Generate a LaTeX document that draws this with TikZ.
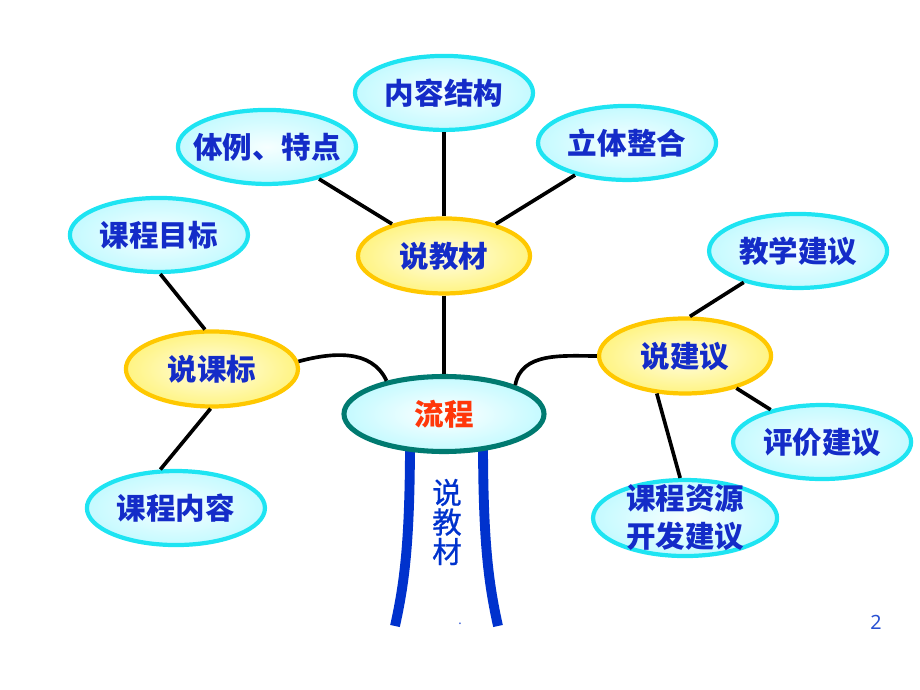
\documentclass[tikz,border=0pt]{standalone}
\usepackage{fontspec}
\setmainfont{Noto Sans}
\newfontfamily\cjk{Noto Sans CJK SC}
\newfontfamily\cjkv[FakeBold=0.8]{Noto Sans CJK SC}
\usetikzlibrary{shapes.geometric, positioning, backgrounds}
\definecolor{textblue}{RGB}{20,44,200}
\definecolor{rootred}{RGB}{255,55,10}
\definecolor{leafline}{RGB}{30,228,242}
\definecolor{leaffill}{RGB}{196,250,255}
\definecolor{branchline}{RGB}{255,200,0}
\definecolor{branchfill}{RGB}{255,244,130}
\definecolor{rootline}{RGB}{0,122,112}
\definecolor{pillarblue}{RGB}{0,50,205}
\definecolor{pageblue}{RGB}{40,80,210}
\tikzset{
  leaf/.style={ellipse, draw=leafline, line width=3pt, inner color=white!85!leaffill, outer color=leaffill, minimum width=4.45cm, minimum height=1.85cm, inner xsep=-0.8cm, inner ysep=-0.45cm, align=center, font=\cjk\bfseries\fontsize{21}{27}\selectfont, text=textblue},
  branch/.style={ellipse, draw=branchline, line width=3pt, inner color=white!80!branchfill, outer color=branchfill, minimum width=4.3cm, minimum height=1.875cm, inner xsep=-0.8cm, font=\cjk\bfseries\fontsize{21}{25}\selectfont, text=textblue},
  root/.style={ellipse, draw=rootline, line width=3.6pt, inner color=white, outer color=leaffill, minimum width=5cm, minimum height=1.875cm, font=\cjk\bfseries\fontsize{21}{25}\selectfont, text=rootred},
  vtext/.style={align=center, font=\cjkv\fontsize{21}{21}\selectfont, text=pillarblue},
  link/.style={line width=2.6pt, black},
  pillar/.style={line width=7pt, pillarblue}
}
\begin{document}
\begin{tikzpicture}[x=0.025cm, y=-0.025cm, on grid]
  \useasboundingbox (0,0) rectangle (920,690);

  \node (liucheng) [root] at (444,414) {流程};
  \node (jiaocai) [branch, above=3.95cm of liucheng] {说教材};
  \node (kebiao) [branch, above left=1.125cm and 5.8cm of liucheng] {说课标};
  \node (jianyi) [branch, above right=1.45cm and 6.025cm of liucheng] {说建议};

  \node (jiegou) [leaf, above=4.075cm of jiaocai] {内容结构};
  \node (tili) [leaf, above left=2.725cm and 4.425cm of jiaocai] {体例、特点};
  \node (zhenghe) [leaf, above right=2.825cm and 4.575cm of jiaocai] {立体整合};
  \node (mubiao) [leaf, above left=3.35cm and 1.325cm of kebiao] {课程目标};
  \node (neirong) [leaf, below left=3.475cm and 0.9cm of kebiao] {课程内容};
  \node (jiaoxue) [leaf, above right=2.625cm and 2.825cm of jianyi] {教学建议};
  \node (pingjia) [leaf, below right=2.15cm and 3.425cm of jianyi] {评价建议};
  \node (ziyuan) [leaf, minimum width=4.6cm, minimum height=1.9cm, below=4.05cm of jianyi] {课程资源\\开发建议};

  \node (shuo) [vtext, below right=2.7cm and 0.075cm of liucheng] {说\\教\\材};
  \node (dot) [text=pageblue, font=\small] at (460,624) {.};
  \node (page) [text=pageblue, font=\fontsize{14}{16}\selectfont] at (876,622) {2};

  \begin{scope}[on background layer]
    \coordinate (lefttop) at (410,440);
    \coordinate (leftfoot) at (395,626);
    \coordinate (righttop) at (483,440);
    \coordinate (rightfoot) at (498,626);
    \draw [pillar] (lefttop) .. controls (410,545) and (404,585) .. (leftfoot);
    \draw [pillar] (righttop) .. controls (483,545) and (489,585) .. (rightfoot);
  \end{scope}

  \draw [link] (jiaocai) -- (jiegou);
  \draw [link] (jiaocai) -- (tili);
  \draw [link] (jiaocai) -- (zhenghe);
  \draw [link] (jiaocai) -- (liucheng);
  \draw [link] (kebiao.100) -- (mubiao.272);
  \draw [link] (kebiao.268) -- (neirong.112);
  \draw [link] (liucheng.150) to[out=115, in=15] (kebiao.5);
  \draw [link] (liucheng.22) to[out=80, in=180] (jianyi.west);
  \draw [link] (jianyi.83) -- (jiaoxue.210);
  \draw [link] (jianyi) -- (pingjia);
  \draw [link] (jianyi.233) -- (ziyuan.97);

\end{tikzpicture}
\end{document}
